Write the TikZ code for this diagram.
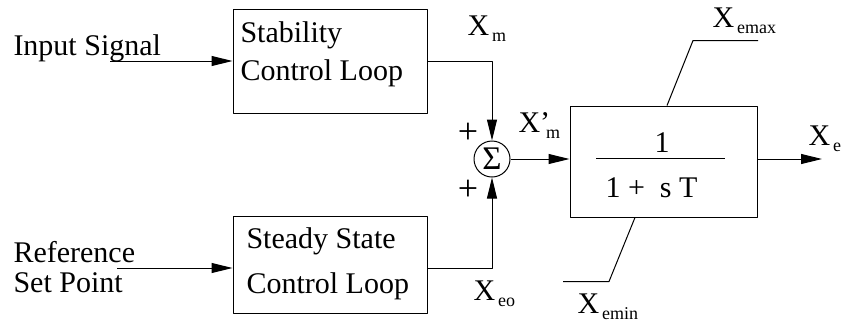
\documentclass[tikz,border=0pt]{standalone}
\usepackage{fontspec}
\setmainfont{Liberation Serif}
\usetikzlibrary{arrows.meta}
% X with a small, lowered index
\newcommand{\Xsub}[2][X]{#1\hspace{3pt}\raisebox{-6pt}{\fontsize{18}{18}\selectfont #2}}

\begin{document}
\begin{tikzpicture}[x=1pt, y=-1pt, line width=1pt, line join=round,
	>={Triangle[length=21pt,width=10pt]},
	every node/.style={font=\fontsize{30}{36}\selectfont},
	blk/.style={draw, inner sep=0pt, minimum width=#1},
	txt/.style={anchor=base west, inner sep=0pt},
	sgn/.style={inner sep=0pt, font=\fontsize{36}{36}\selectfont}]
	\useasboundingbox (0,0) rectangle (842,325);
	% blocks
	\node[blk=194pt, minimum height=104pt] (stab) at (330,61) {};
	\node[blk=194pt, minimum height=97pt] (steady) at (330,265) {};
	\node[blk=187pt, minimum height=111pt] (lag) at (663.5,161.5) {};
	\node[draw, circle, inner sep=0pt, minimum size=36pt, font=\fontsize{33}{33}\selectfont] (sum) at (492,159) {\raisebox{1pt}{Σ}};
	% inputs
	\coordinate (in) at (110,61);
	\coordinate (ref) at (117,268);
	\coordinate (out) at (822,159);
	\draw[->] (in) -- (stab.west);
	\draw[->] (ref) -- (ref -| steady.west);
	\draw[->] (stab.east) -| (sum.north);
	\draw[->] (steady.east |- ref) -| (sum.south);
	\draw[->] (sum.east) -- (sum -| lag.west);
	\draw[->] (lag.east |- sum) -- (out);
	% limits
	\draw ([xshift=3.5pt]lag.north) -- ++(26,-65) -- ++(65,0);
	\draw ([xshift=-28.5pt]lag.south) -- ++(-26,64) -- ++(-46,0);
	% fraction
	\node[anchor=base, inner sep=0pt] (num) at (662,152) {1};
	\draw (596,158) -- (725,158);
	\node[txt] (den) at (605,197) {1 +\ \ s T};
	% texts
	\node[txt] (t1) at (13,55) {Input Signal};
	\node[txt] (t2) at (240,42) {Stability};
	\node[txt] (t3) at (240,80) {Control Loop};
	\node[txt] (t4) at (13,262) {Reference};
	\node[txt] (t5) at (13,292) {Set Point};
	\node[txt] (t6) at (246,248) {Steady State};
	\node[txt] (t7) at (246,293) {Control Loop};
	\node[sgn] (p1) at (468,133) {+};
	\node[sgn] (p2) at (468,190) {+};
	\node[txt] (xm) at (467,35) {\Xsub{m}};
	\node[txt] (xmp) at (518,132) {\Xsub[X’\hspace{-7pt}]{m}};
	\node[txt] (xe) at (808,145) {\Xsub{e}};
	\node[txt] (xemax) at (712,27) {\Xsub{emax}};
	\node[txt] (xeo) at (473,300) {\Xsub{eo}};
	\node[txt] (xemin) at (577,313) {\Xsub{emin}};
\end{tikzpicture}
\end{document}
